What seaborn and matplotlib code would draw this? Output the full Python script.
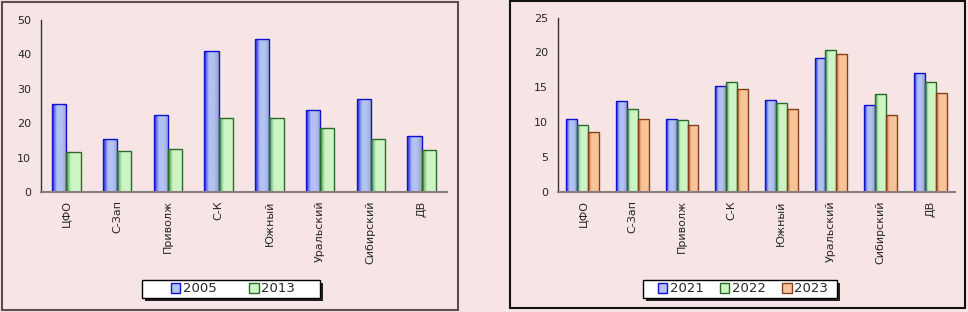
import numpy as np
import pandas as pd
import matplotlib
matplotlib.use("Agg")
import matplotlib.pyplot as plt
import matplotlib.patches as patches
from matplotlib.colors import LinearSegmentedColormap
import seaborn as sns

# данные
regions = ["ЦФО", "С-Зап", "Приволж", "С-К", "Южный", "Уральский", "Сибирский", "ДВ"]

years_left = ["2005", "2013"]
v2005 = [25.7, 15.4, 22.4, 41.0, 44.6, 23.8, 27.1, 16.4]
v2013 = [11.6, 11.9, 12.4, 21.5, 21.5, 18.7, 15.5, 12.2]

years_right = ["2021", "2022", "2023"]
v2021 = [10.4, 13.1, 10.5, 15.2, 13.2, 19.2, 12.5, 17.1]
v2022 = [9.6, 11.9, 10.3, 15.7, 12.8, 20.4, 14.1, 15.7]
v2023 = [8.6, 10.5, 9.6, 14.7, 11.9, 19.8, 11.0, 14.2]

bg = "#f7e5e6"
# (край, середина, контур) для градиента столбиков
styles = {
    "blue": ("#1f1fe8", "#b2c2f2", "#1010d0"),
    "green": ("#3f9a3f", "#cdf5c4", "#2a6a2a"),
    "orange": ("#c8683a", "#f8c49a", "#8a3e18"),
}

sns.set_style("white")
plt.rcParams["font.family"] = ["DejaVu Sans"]

df_left = pd.DataFrame({
    "region": regions * 2,
    "year": [years_left[0]] * 8 + [years_left[1]] * 8,
    "value": v2005 + v2013,
})
df_right = pd.DataFrame({
    "region": regions * 3,
    "year": [years_right[0]] * 8 + [years_right[1]] * 8 + [years_right[2]] * 8,
    "value": v2021 + v2022 + v2023,
})

fig = plt.figure(figsize=(9.68, 3.12), dpi=100)
fig.patch.set_facecolor(bg)


def px_rect(x0, y0, x1, y1, **kw):
    # прямоугольник в пикселях (от верхнего левого угла)
    r = patches.Rectangle((x0 / 968, 1 - y1 / 312), (x1 - x0) / 968, (y1 - y0) / 312,
                          transform=fig.transFigure, **kw)
    fig.patches.append(r)


# рамки панелей
px_rect(2, 2, 458, 310, fill=False, edgecolor="#5e4e4e", linewidth=1.5, zorder=-3)
px_rect(510, 1, 965, 308, fill=False, edgecolor="#111111", linewidth=1.5, zorder=-3)

# рамки легенд с тенью
px_rect(145, 283, 323, 301, facecolor="#222222", edgecolor="none", zorder=-2)
px_rect(142, 280, 320, 298, facecolor="white", edgecolor="black", linewidth=1.0, zorder=-1)
px_rect(646, 283, 840, 301, facecolor="#222222", edgecolor="none", zorder=-2)
px_rect(643, 280, 837, 298, facecolor="white", edgecolor="black", linewidth=1.0, zorder=-1)


def gradient_bars(ax, container, style):
    edge, mid, line = styles[style]
    cmap = LinearSegmentedColormap.from_list("g", [edge, mid, mid, "#9aa0c8" if style == "blue" else mid])
    grad = np.linspace(0, 1, 64).reshape(1, -1)
    for bar in container:
        x, w, h = bar.get_x(), bar.get_width(), bar.get_height()
        bar.set_edgecolor(line)
        bar.set_linewidth(1.0)
        im = ax.imshow(grad, extent=[x, x + w, 0, h], aspect="auto", cmap=cmap,
                       zorder=bar.get_zorder(), interpolation="bilinear")
        im.set_clip_path(bar)
        bar.set_zorder(bar.get_zorder() + 0.1)
        bar.set_facecolor("none")


def draw(ax, df, years, styls, width, ymax, ystep, leg_center, colspace):
    ax.set_facecolor(bg)
    pal = {y: styles[s][1] for y, s in zip(years, styls)}
    sns.barplot(data=df, x="region", y="value", hue="year", palette=pal,
                width=width, ax=ax, saturation=1, errorbar=None)
    for cont, s in zip(ax.containers, styls):
        gradient_bars(ax, cont, s)
    ax.set_xlim(-0.5, 7.5)
    ax.set_ylim(0, ymax)
    ax.set_yticks(np.arange(0, ymax + 0.1, ystep))
    ax.set_xlabel("")
    ax.set_ylabel("")
    for sp in ["top", "right"]:
        ax.spines[sp].set_visible(False)
    ax.spines["left"].set_color("#333333")
    ax.spines["bottom"].set_color("#8a7f80")
    ax.spines["bottom"].set_linewidth(1.5)
    ax.spines["left"].set_linewidth(1.0)
    ax.set_xticks(np.arange(8))
    ax.set_xticklabels(regions, rotation=90, fontsize=8)
    ax.set_xticks(np.arange(-0.5, 8, 1), minor=True)
    ax.tick_params(axis="x", which="major", length=0, pad=6)
    ax.tick_params(axis="x", which="minor", length=4, direction="out", color="#333333")
    ax.tick_params(axis="y", length=3, direction="out", labelsize=8, color="#333333", pad=4)
    handles = [patches.Patch(facecolor=styles[s][1], edgecolor=styles[s][2]) for s in styls]
    ax.legend(handles, years, loc="center",
              bbox_to_anchor=(leg_center[0] / 968, 1 - leg_center[1] / 312),
              bbox_transform=fig.transFigure, ncol=len(years), fontsize=9.5,
              frameon=False, handlelength=0.7, handleheight=0.7,
              handletextpad=0.2, columnspacing=colspace, borderpad=0.2)


ax1 = fig.add_axes([41 / 968, 1 - 192 / 312, 406 / 968, 172 / 312])
draw(ax1, df_left, years_left, ["blue", "green"], 0.56, 50, 10, (233, 289), 2.5)

ax2 = fig.add_axes([558 / 968, 1 - 192 / 312, 397 / 968, 174.5 / 312])
draw(ax2, df_right, years_right, ["blue", "green", "orange"], 0.66, 25, 5, (743, 289), 1.25)

fig.savefig("out.png", dpi=100, facecolor=bg)
